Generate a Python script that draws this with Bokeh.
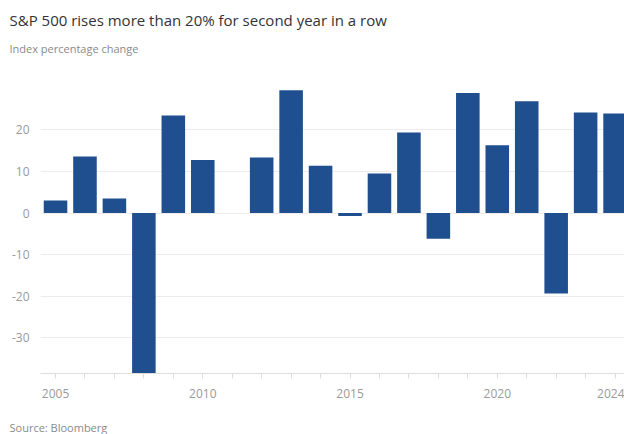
from bokeh.plotting import figure
from bokeh.models import ColumnDataSource, Range1d, FixedTicker, Title
from bokeh.embed import file_html
from bokeh.resources import INLINE

years = [2005, 2006, 2007, 2008, 2009, 2010, 2011, 2012, 2013, 2014,
         2015, 2016, 2017, 2018, 2019, 2020, 2021, 2022, 2023, 2024]
pct_change = [3.0, 13.6, 3.5, -38.5, 23.5, 12.8, 0.0, 13.4, 29.6, 11.4,
              -0.7, 9.5, 19.4, -6.2, 28.9, 16.3, 26.9, -19.4, 24.2, 24.0]
y_ticks = [-30, -20, -10, 0, 10, 20]
x_label_years = [2005, 2010, 2015, 2020, 2024]

title_text = "S&P 500 rises more than 20% for second year in a row"
subtitle_text = "Index percentage change"
source_text = "Source: Bloomberg"

FONT = "Open Sans"
BAR = "#1f4f8f"

src = ColumnDataSource(dict(year=years, pct=pct_change))

p = figure(width=624, height=434, output_backend="svg", toolbar_location=None,
           title=None, x_range=Range1d(2004.49, 2024.32), y_range=Range1d(-38.64, 32.16),
           min_border_left=40, min_border_right=0, min_border_top=0, min_border_bottom=0)
p.outline_line_color = None
p.background_fill_color = "white"
p.border_fill_color = "white"

p.vbar(x="year", top="pct", bottom=0, width=0.8, source=src,
       fill_color=BAR, line_color=None)

# y axis
p.yaxis.ticker = FixedTicker(ticks=y_ticks)
p.yaxis.major_label_overrides = {t: str(t) for t in y_ticks}
p.yaxis.axis_line_color = None
p.yaxis.major_tick_line_color = None
p.yaxis.minor_tick_line_color = None
p.yaxis.major_label_text_font = FONT
p.yaxis.major_label_text_font_size = "12px"
p.yaxis.major_label_text_color = "#9a9a9a"
p.yaxis.major_label_standoff = 5
p.ygrid.grid_line_color = "#ececec"
p.ygrid.ticker = FixedTicker(ticks=y_ticks)

# x axis
p.xaxis.ticker = FixedTicker(ticks=years)
p.xaxis.major_label_overrides = {y: (str(y) if y in x_label_years else "") for y in years}
p.xaxis.axis_line_color = "#dddddd"
p.xaxis.major_tick_line_color = "#dddddd"
p.xaxis.major_tick_in = 0
p.xaxis.major_tick_out = 5
p.xaxis.minor_tick_line_color = None
p.xaxis.major_label_text_font = FONT
p.xaxis.major_label_text_font_size = "12px"
p.xaxis.major_label_text_color = "#9a9a9a"
p.xaxis.major_label_standoff = 10
p.xgrid.grid_line_color = None

# top stack: spacer (closest to frame), subtitle, title
p.add_layout(Title(text=" ", standoff=19, text_font_size="1px"), "above")
p.add_layout(Title(text=subtitle_text, align="left", offset=-31, standoff=4,
                   text_font=FONT, text_font_size="11px", text_font_style="normal",
                   text_color="#8a8a8a"), "above")
p.add_layout(Title(text=title_text, align="left", offset=-31, standoff=14,
                   text_font=FONT, text_font_size="15px", text_font_style="normal",
                   text_color="#333333"), "above")

# bottom stack: axis, spacer, source
p.add_layout(Title(text=" ", standoff=14, text_font_size="1px"), "below")
p.add_layout(Title(text=source_text, align="left", offset=-31, standoff=0,
                   vertical_align="bottom",
                   text_font=FONT, text_font_size="11px", text_font_style="normal",
                   text_color="#8a8a8a"), "below")

open("out.html", "w").write(file_html(p, INLINE))
